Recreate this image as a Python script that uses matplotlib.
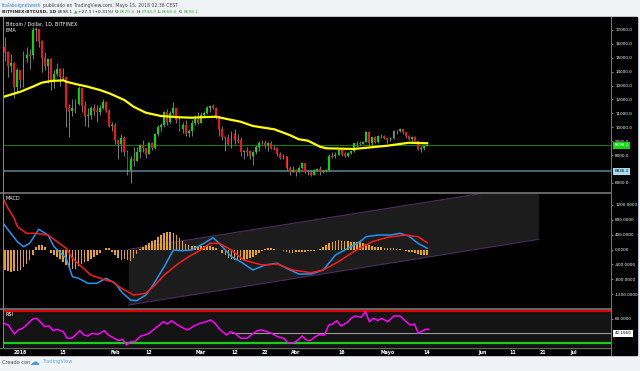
import numpy as np
import matplotlib
matplotlib.use("Agg")
import matplotlib.pyplot as plt
from matplotlib.patches import Rectangle

# ===== data (day offset from 2018-01-01; first candle = 2017-12-26) =====
days = list(range(-6, 134))

opens = [
    13950, 15750, 15400, 14400, 14600, 12900,
    14100, 13400, 15000, 15200, 15200, 17000, 17100, 16200, 15000, 14400,
    14900, 13300, 13800, 14200, 13600, 13600, 11400, 11200, 11400, 11700,
    12800, 11500, 10800, 10900, 11400, 11200, 11100, 11400, 11800, 11200, 10100,
    10200, 9100, 8800, 9200, 8200, 6900, 7700, 7600, 8200, 8700,
    8500, 8100, 8900, 8500, 9500, 10000, 10200, 11100, 10400, 11000,
    11400, 10500, 9850, 10200, 9600, 9700, 10300, 10600,
    10300, 10900, 11000, 11400, 11500, 11400, 10700, 9900, 9300, 9200,
    8800, 9500, 9100, 9100, 8200, 8300, 8300, 7900, 8200, 8600,
    8900, 8900, 8700, 8900, 8500, 8500, 8100, 7800, 7900, 7100, 6800,
    6900, 6800, 7100, 7400, 6800, 6800, 6600, 6900, 7000, 6800,
    6850, 6950, 7900, 7900, 8000, 8350, 8050, 7900, 8170, 8280,
    8850, 8900, 8800, 8950, 9650, 8870, 9280, 8930, 9350, 9400,
    9240, 9080, 9220, 9750, 9700, 9850, 9650, 9370, 9180, 9320, 9030, 8440, 8500, 8670.8,
]
closes = [
    15750, 15400, 14400, 14600, 12900, 14100,
    13400, 15000, 15200, 15150, 17000, 17100, 16200, 15000, 14400, 14900,
    13300, 13800, 14200, 13600, 13550, 11400, 11200, 11400, 11700, 12800,
    11500, 10800, 10900, 11400, 11200, 11100, 11400, 11800, 11200, 10100, 10200,
    9100, 8800, 9200, 8200, 6900, 7700, 7600, 8200, 8700, 8500,
    8100, 8900, 8500, 9500, 10000, 10200, 11100, 10400, 11000, 11400,
    10500, 9850, 10200, 9600, 9700, 10300, 10600, 10300,
    10900, 11000, 11400, 11500, 11400, 10700, 9900, 9300, 9200, 8800,
    9500, 9100, 9050, 8200, 8300, 8250, 7900, 8200, 8600, 8900,
    8850, 8700, 8900, 8500, 8450, 8100, 7800, 7900, 7100, 6800, 6900,
    6800, 7100, 7400, 6800, 6750, 6600, 6900, 7000, 6800, 6850,
    6950, 7900, 7850, 8000, 8350, 8050, 7900, 8170, 8280, 8850,
    8900, 8800, 8950, 9650, 8870, 9280, 8930, 9350, 9400, 9240,
    9080, 9220, 9750, 9700, 9850, 9650, 9370, 9180, 9320, 9030, 8440, 8500, 8670.8, 8698.1,
]
highs = [
    16000, 16500, 15500, 15300, 14700, 14300,
    14100, 15500, 15800, 15600, 17200, 17250, 17100, 16300, 15400, 14900,
    15000, 14100, 14600, 14300, 14300, 13600, 11700, 12000, 12000, 13000,
    12800, 11900, 11400, 11500, 11700, 11600, 11600, 12000, 11900, 11300, 10400,
    10300, 9100, 9500, 9400, 8400, 7900, 8600, 8600, 8800, 9100,
    8500, 8950, 8950, 9550, 10200, 10300, 11200, 11300, 11200, 11800,
    11400, 10900, 10400, 10500, 9900, 10500, 10900, 11100,
    11100, 11200, 11550, 11550, 11700, 11450, 10900, 10100, 9400, 9500,
    9700, 9900, 9500, 9300, 8400, 8600, 8400, 8300, 8700, 9000,
    9100, 9100, 8950, 9000, 8700, 8550, 8200, 8100, 7950, 7200, 7200,
    7000, 7200, 7500, 7450, 6900, 6900, 7000, 7100, 7200, 6900,
    7000, 8050, 8200, 8200, 8420, 8400, 8200, 8230, 8320, 8900,
    9000, 9000, 9000, 9750, 9750, 9320, 9400, 9450, 9500, 9450,
    9260, 9270, 9800, 9800, 9950, 9900, 9680, 9450, 9360, 9400, 9050, 8650, 8750, 8748.9,
]
lows = [
    13800, 14800, 13600, 14000, 12100, 12500,
    12800, 12900, 14700, 14200, 14900, 16200, 15800, 14000, 14100, 13200,
    12700, 12800, 13700, 13000, 13400, 10000, 9300, 10800, 11000, 11600,
    11100, 10100, 10000, 10600, 10900, 10400, 10900, 11300, 11100, 10000, 9700,
    8800, 7700, 8200, 7900, 6600, 6000, 7200, 7600, 7800, 8200,
    7800, 8050, 8350, 8450, 9400, 9700, 10050, 10200, 10300, 10900,
    10300, 9700, 9600, 9400, 9300, 9400, 10200, 10250,
    10300, 10800, 10950, 11100, 11350, 10600, 9400, 9100, 8300, 8700,
    8500, 8800, 8900, 7900, 7700, 7900, 7750, 7300, 8100, 8300,
    8800, 8500, 8300, 8450, 8400, 7900, 7750, 7750, 6900, 6600, 6750,
    6500, 6750, 7000, 6700, 6600, 6500, 6550, 6850, 6600, 6700,
    6800, 6850, 7800, 7800, 7980, 7900, 7850, 7880, 8100, 8200,
    8600, 8750, 8780, 8930, 8700, 8700, 8880, 8880, 9200, 9180,
    8850, 9040, 9180, 9550, 9680, 9500, 9200, 9100, 9000, 8990, 8350, 8200, 8400, 8660.4,
]

ema_days = [-6, 0, 4, 7, 10, 14, 15, 18, 22, 26, 29, 34, 37, 41, 46, 52, 56, 61, 64,
            68, 72, 76, 83, 88, 91, 94, 98, 100, 109, 120, 127, 133]
ema_vals = [12160, 12560, 12920, 13210, 13330, 13380, 13280, 13115, 12920, 12680, 12450,
            11960, 11480, 11050, 10810, 10720, 10690, 10740, 10760, 10575, 10400, 10095,
            9855, 9445, 9140, 9035, 8600, 8490, 8440, 8675, 8890, 8850]

macd_days = [-6, -4, -1, 1, 3, 6, 9, 11, 15, 17, 19, 22, 25, 28, 31, 33, 36, 38, 41,
             43, 47, 50, 53, 56, 60, 63, 65, 69, 72, 76, 80, 84, 87, 91, 95, 99, 103,
             107, 111, 113, 117, 121, 124, 127, 130, 133]
macd_vals = [746, 523, 209, 75, 166, 542, 389, 75, -236, -730, -773, -907, -907, -773,
             -907, -1133, -1356, -1374, -1221, -999, -462, -13, -32, -13, 166, 317, 166,
             -193, -327, -550, -416, -370, -505, -658, -658, -550, -148, 32, 209, 344,
             389, 389, 435, 362, 166, 32]
signal_days = [-6, -4, -2, -1, 2, 5, 9, 12, 15, 17, 20, 23, 27, 30, 33, 37, 41, 44,
               47, 51, 55, 59, 62, 65, 69, 73, 79, 84, 89, 95, 99, 104, 109, 115, 120,
               126, 130, 133]
signal_vals = [1420, 1100, 830, 612, 435, 435, 389, 209, 32, -236, -462, -685, -800,
               -864, -1042, -1221, -1176, -953, -685, -416, -193, -13, 166, 166, -13,
               -282, -416, -389, -550, -622, -550, -327, -59, 209, 327, 389, 344, 183]
hist_vals = [
    -400, -560, -590, -600, -590, -570,
    -540, -480, -380, -270, -160, 60, 110, 120, 60, -20,
    -90, -150, -200, -260, -330, -420, -500, -530, -510, -450,
    -380, -330, -300, -260, -210, -150, -90, -20, 30, 40, -60,
    -160, -230, -270, -260, -280, -300, -230, -120, 20, 80,
    120, 180, 220, 260, 330, 390, 430, 460, 470, 440,
    380, 300, 230, 160, 120, 100, 90, 80,
    90, 100, 110, 100, 70, 30, -20, -90, -160, -220,
    -250, -270, -280, -290, -280, -260, -230, -200, -150, -90,
    -40, 10, 30, 30, 20, 0, -20, -50, -70, -90, -90,
    -80, -80, -70, -60, -50, -40, -30, -20, 10, 60,
    120, 170, 210, 240, 250, 240, 230, 220, 200, 190,
    200, 210, 180, 150, 120, 90, 70, 60, 60, 50,
    40, 40, 30, 20, 10, -10, -40, -60, -80, -100, -120, -140, -150, -150,
]
# parallel channel drawn on the MACD pane (day, value)
channel_upper = [(35.4, 5), (169.5, 1748)]
channel_lower = [(35.4, -1490), (169.5, 274)]

rsi_days = [-6, -4, -2, -0.7, 0.7, 2, 4, 5.3, 6.7, 8, 9.4, 10.7, 12, 14, 15.3, 16.7,
            18, 19.4, 20.7, 22, 23.3, 25.4, 27.4, 28.7, 30.7, 32, 33.4, 34.7, 36,
            37.4, 39.4, 40.7, 42.1, 43.4, 45.4, 46.7, 48, 49.4, 51.4, 53.4, 54.7,
            56.7, 58.7, 60.7, 62.1, 63.4, 65.4, 67.4, 68.7, 70.1, 72.1, 74.1, 75.4,
            77.4, 78.7, 80.7, 82.1, 84.1, 86.1, 87.4, 89.4, 90.8, 92.1, 93.4, 94.8,
            96.1, 97.4, 99.4, 100.8, 102.1, 103.4, 104.8, 106.8, 108.1, 109.5, 111.4,
            112.8, 114.1, 115.5, 116.8, 118.1, 120.1, 122.1, 124.1, 126.1, 127.5,
            128.8, 130.1, 131.5, 132.8, 133.5]
rsi_vals = [55.4, 52.5, 41.3, 46.3, 48.4, 52.5, 60, 60.9, 55.4, 50.4, 51.3, 45.4, 47.1,
            44.1, 35.9, 35.9, 40, 45.4, 40, 38.8, 42.1, 40.9, 45.4, 40, 35.9, 32.9,
            34.6, 27.5, 31.6, 31.6, 38.8, 40, 42.1, 46.3, 52.5, 56.6, 53.8, 57.9, 52.5,
            48.4, 46.3, 51.3, 54.6, 56.6, 58.8, 55.4, 46.3, 40, 44.1, 42.1, 35.9, 35.9,
            40, 45.4, 46.3, 44.1, 42.1, 37.9, 35.9, 30.4, 30.4, 33.8, 38.8, 33.8, 32.9,
            37.1, 40, 40, 52.5, 53.8, 57.9, 51.3, 55.4, 60.9, 63.8, 62.1, 69.1, 56.6,
            60.9, 57.9, 60.9, 56.6, 63.8, 63.8, 56.6, 52.5, 53.8, 42.1, 45.4, 47.1, 47.1]

tick_days = [0, 14, 31, 42, 59, 70, 80, 90, 105, 120, 133, 151, 161, 171, 181]
tick_labels = ["2018", "15", "Feb", "12", "Mar", "12", "22", "Abr", "16", "Mayo",
               "14", "Jun", "11", "21", "Jul"]
price_ticks = [6000, 8000, 9000, 10000, 11000, 12000, 13000, 14000, 15000, 16000, 17000]

last_price = 8698.1
support = 6836.1
rsi_level = 42.156

# ===== layout (pixel based) =====
W, H = 640, 371
XMIN, XMAX = -5.7, 193.1
AXFS = 3.0


def box(x0, y0, x1, y1):
    return [x0 / W, 1 - y1 / H, (x1 - x0) / W, (y1 - y0) / H]


def ftext(x, y, s, **kw):
    return fig.text(x / W, 1 - y / H, s, va="center", ha="left", **kw)


fig = plt.figure(figsize=(6.4, 3.71), dpi=100, facecolor="#f0f3f6")
fig.patches.append(Rectangle((0, 1 - 355 / H), 637 / W, 338 / H,
                             transform=fig.transFigure, color="black", zorder=-5))

ax_p = fig.add_axes(box(3, 17, 611, 192))
ax_m = fig.add_axes(box(3, 193, 611, 308))
ax_r = fig.add_axes(box(3, 309, 611, 347))

for ax in (ax_p, ax_m, ax_r):
    ax.set_facecolor("black")
    ax.set_xlim(XMIN, XMAX)
    for sp in ax.spines.values():
        sp.set_visible(False)
    ax.yaxis.tick_right()
    ax.tick_params(axis="y", colors="#bbbbbb", labelcolor="white", labelsize=AXFS,
                   length=1.5, width=0.5, pad=1.5)
    ax.tick_params(axis="x", length=0)
ax_r.set_facecolor("#141414")

# ===== price pane =====
d = np.array(days, dtype=float)
o, c = np.array(opens), np.array(closes)
hi, lo = np.array(highs), np.array(lows)
colors = np.where(c >= o, "#00e000", "#ff1010")
ax_p.vlines(d, lo, hi, color="#8c8c8c", lw=0.6, zorder=2)
ax_p.bar(d, np.maximum(np.abs(c - o), 40), bottom=np.minimum(o, c), width=0.62,
         color=colors, linewidth=0, zorder=3)
ax_p.axhline(last_price, color="#137a13", lw=0.8, zorder=1)
ax_p.axhline(support, color="#4f6f7b", lw=1.3, zorder=1)
ax_p.plot(ema_days, ema_vals, color="#ffff00", lw=1.6, zorder=4)
ax_p.set_ylim(5345, 17935)
ax_p.set_yticks(price_ticks)
ax_p.set_yticklabels([f"{v:.1f}" for v in price_ticks])
ax_p.set_xticks([])
yt = ax_p.get_yaxis_transform()
ax_p.text(1.006, last_price, f"{last_price:.1f}", transform=yt, fontsize=AXFS,
          color="white", va="center", ha="left", zorder=10,
          bbox=dict(boxstyle="square,pad=0.3", fc="#14d214", ec="none"))
ax_p.text(1.006, support, f"{support:.1f}", transform=yt, fontsize=AXFS,
          color="black", va="center", ha="left", zorder=10,
          bbox=dict(boxstyle="square,pad=0.3", fc="#a6dcef", ec="none"))

# ===== MACD pane =====
xs = [channel_upper[0][0], channel_upper[1][0], channel_lower[1][0], channel_lower[0][0]]
ys = [channel_upper[0][1], channel_upper[1][1], channel_lower[1][1], channel_lower[0][1]]
ax_m.fill(xs, ys, color="#1c1c1c", zorder=0.5, lw=0)
ax_m.plot(*zip(*channel_upper), color="#4a2d5e", lw=0.8, zorder=1)
ax_m.plot(*zip(*channel_lower), color="#4a2d5e", lw=0.8, zorder=1)
ax_m.bar(days, hist_vals, width=0.55, color="#e5a21c", linewidth=0, zorder=2)
ax_m.plot(macd_days, macd_vals, color="#2196f3", lw=1.1, zorder=3)
ax_m.plot(signal_days, signal_vals, color="#ff1a1a", lw=1.1, zorder=3)
ax_m.set_ylim(-1570, 1517)
mt = [-1200, -800, -400, 0, 400, 800, 1200]
ax_m.set_yticks(mt)
ax_m.set_yticklabels([f"{v:.4f}" for v in mt])
ax_m.set_xticks([])

# ===== RSI pane =====
ax_r.axhline(70, color="#e00000", lw=1.6, zorder=1)
ax_r.axhline(30, color="#1ccc1c", lw=1.6, zorder=1)
ax_r.hlines(rsi_level, 69, XMAX, color="#9a9a9a", lw=0.8, zorder=1)
ax_r.plot(rsi_days, rsi_vals, color="#ff00ff", lw=1.1, zorder=3)
ax_r.set_ylim(25, 72.5)
ax_r.set_yticks([60])
ax_r.set_yticklabels(["60.0000"])
ax_r.text(1.006, rsi_level, f"{rsi_level:.4f}", transform=ax_r.get_yaxis_transform(),
          fontsize=AXFS, color="black", va="center", ha="left", zorder=10,
          bbox=dict(boxstyle="square,pad=0.3", fc="white", ec="none"))
ax_r.set_xticks(tick_days)
ax_r.set_xticklabels(tick_labels)
ax_r.tick_params(axis="x", colors="white", labelsize=3.4, pad=2.2, length=0)
for t in ax_r.get_xticklabels():
    t.set_fontweight("bold")

# ===== separators =====
for yy, lw in [(192.5, 1.4), (308.5, 1.4), (347.5, 1.0)]:
    fig.add_artist(plt.Line2D([0, 611 / W], [1 - yy / H] * 2, color="#666666", lw=lw))
fig.add_artist(plt.Line2D([611 / W] * 2, [1 - 17 / H, 1 - 355 / H], color="#777777", lw=0.7))
fig.add_artist(plt.Line2D([2.5 / W] * 2, [1 - 17 / H, 1 - 347 / H], color="#888888", lw=0.7))

# ===== texts =====
ftext(6, 24, "Bitcoin / Dollar, 1D, BITFINEX", color="white", fontsize=3.5)
ftext(6, 30.5, "EMA", color="white", fontsize=3.5)
ftext(6, 199, "MACD", color="white", fontsize=3.5)
ftext(6, 315, "RSI", color="white", fontsize=3.5)

renderer = fig.canvas.get_renderer()


def chain(x, y, parts, size):
    # place text pieces one after another, left to right
    for s, col, wt, gap in parts:
        t = ftext(x, y, s, color=col, fontsize=size, fontweight=wt)
        x = t.get_window_extent(renderer).x1 + gap


chain(2, 5, [("fcalabuignetwork", "#3b82d0", "normal", 1.2),
             ("publicado en TradingView.com, Mayo 15, 2018 02:36 CEST", "#444444", "normal", 0)],
      3.35)
chain(2, 12, [("BITFINEX:BTCUSD, 1D", "#222222", "bold", 1.5),
              ("8698.1", "#222222", "normal", 1.0),
              ("\u25b2", "#2bb52b", "normal", 1.0),
              ("+27.3 (+0.31%)", "#222222", "normal", 1.5),
              ("O:", "#222222", "normal", 0.4), ("8670.8", "#3cb83c", "normal", 1.2),
              ("H:", "#222222", "normal", 0.4), ("8748.9", "#3cb83c", "normal", 1.2),
              ("L:", "#222222", "normal", 0.4), ("8660.4", "#3cb83c", "normal", 1.2),
              ("C:", "#222222", "normal", 0.4), ("8698.1", "#3cb83c", "normal", 0)],
      3.15)

ftext(2, 362, "Creado con", color="#444444", fontsize=3.6)
ftext(29, 361.5, "\u2601", color="#4a9ee0", fontsize=7)
ftext(42, 362, "TradingView", color="#62a8e6", fontsize=3.6)

fig.savefig("out.png", dpi=100, facecolor=fig.get_facecolor())
